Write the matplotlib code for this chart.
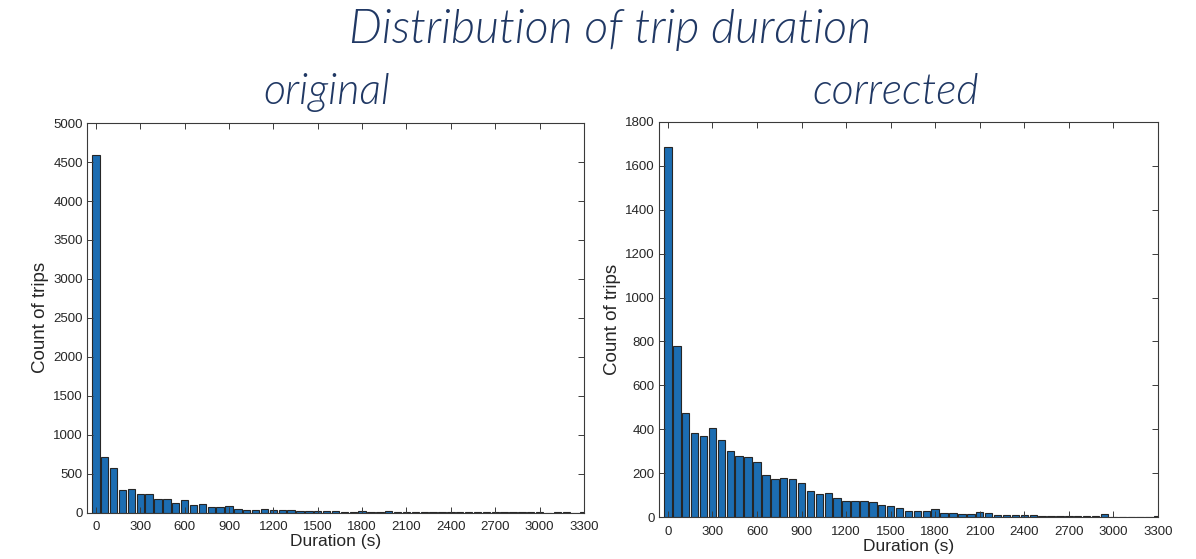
import matplotlib
matplotlib.use("Agg")
import matplotlib.pyplot as plt
import numpy as np

# 直方图的中心位置（秒），每 60 秒一个 bin
bin_centers = list(range(0, 3301, 60))

# 原始数据的各 bin 计数
original_counts = [
    4590, 710, 569, 291, 300, 244, 235, 175, 171, 120,
    158, 98, 107, 68, 77, 81, 43, 38, 30, 51,
    38, 30, 30, 21, 21, 26, 21, 17, 13, 13,
    17, 13, 9, 17, 8, 9, 6, 5, 5, 4,
    6, 5, 4, 5, 4, 3, 4, 3, 3, 3,
    3, 2, 3, 4, 2, 3,
]

# 修正后数据的各 bin 计数
corrected_counts = [
    1683, 781, 475, 382, 370, 406, 350, 300, 277, 273,
    250, 193, 174, 180, 176, 155, 118, 108, 109, 86,
    76, 76, 76, 68, 56, 50, 44, 27, 30, 30,
    39, 21, 21, 17, 17, 26, 18, 12, 10, 12,
    10, 9, 8, 8, 7, 6, 6, 5, 4, 15,
    3, 3, 3, 2, 3, 4,
]

main_title = "Distribution of trip duration"
panel_titles = ["original", "corrected"]
x_ticks = list(range(0, 3301, 300))
y_ticks_original = list(range(0, 5001, 500))
y_ticks_corrected = list(range(0, 1801, 200))

BAR_COLOR = "#1c6db2"
EDGE_COLOR = "#262626"
TITLE_COLOR = "#203864"
AXIS_COLOR = "#3a3a3a"

plt.rcParams["font.family"] = ["Liberation Sans", "DejaVu Sans"]

fig = plt.figure(figsize=(11.96, 5.59), dpi=100)
ax_l = fig.add_axes([0.0727, 0.0828, 0.4156, 0.697])
ax_r = fig.add_axes([0.551, 0.0746, 0.4172, 0.7077])


def draw_hist(ax, counts, yticks, ymax):
    ax.bar(bin_centers, counts, width=50, color=BAR_COLOR,
           edgecolor=EDGE_COLOR, linewidth=0.8)
    ax.set_xlim(-60, 3300)
    ax.set_ylim(0, ymax)
    ax.set_xticks(x_ticks)
    ax.set_yticks(yticks)
    ax.tick_params(direction="in", top=True, right=True, length=4,
                   width=0.7, colors=AXIS_COLOR, labelsize=9.5,
                   labelcolor="#262626")
    ax.tick_params(axis="x", pad=6)
    ax.tick_params(axis="y", pad=3)
    for s in ax.spines.values():
        s.set_color(AXIS_COLOR)
        s.set_linewidth(0.8)
    ax.set_xlabel("Duration (s)", fontsize=12.5, color="#262626", labelpad=1)
    ax.set_ylabel("Count of trips", fontsize=13.5, color="#262626", labelpad=3)


draw_hist(ax_l, original_counts, y_ticks_original, 5000)
draw_hist(ax_r, corrected_counts, y_ticks_corrected, 1800)

title_font = ["Lato", "Open Sans", "DejaVu Sans"]
fig.text(0.51, 0.946, main_title, ha="center", va="center",
         fontsize=33.5, style="italic", weight=300,
         color=TITLE_COLOR, family=title_font)
fig.text(0.273, 0.835, panel_titles[0], ha="center", va="center",
         fontsize=31, style="italic", weight=300,
         color=TITLE_COLOR, family=title_font)
fig.text(0.749, 0.835, panel_titles[1], ha="center", va="center",
         fontsize=31, style="italic", weight=300,
         color=TITLE_COLOR, family=title_font)

fig.savefig("out.png", dpi=100)
